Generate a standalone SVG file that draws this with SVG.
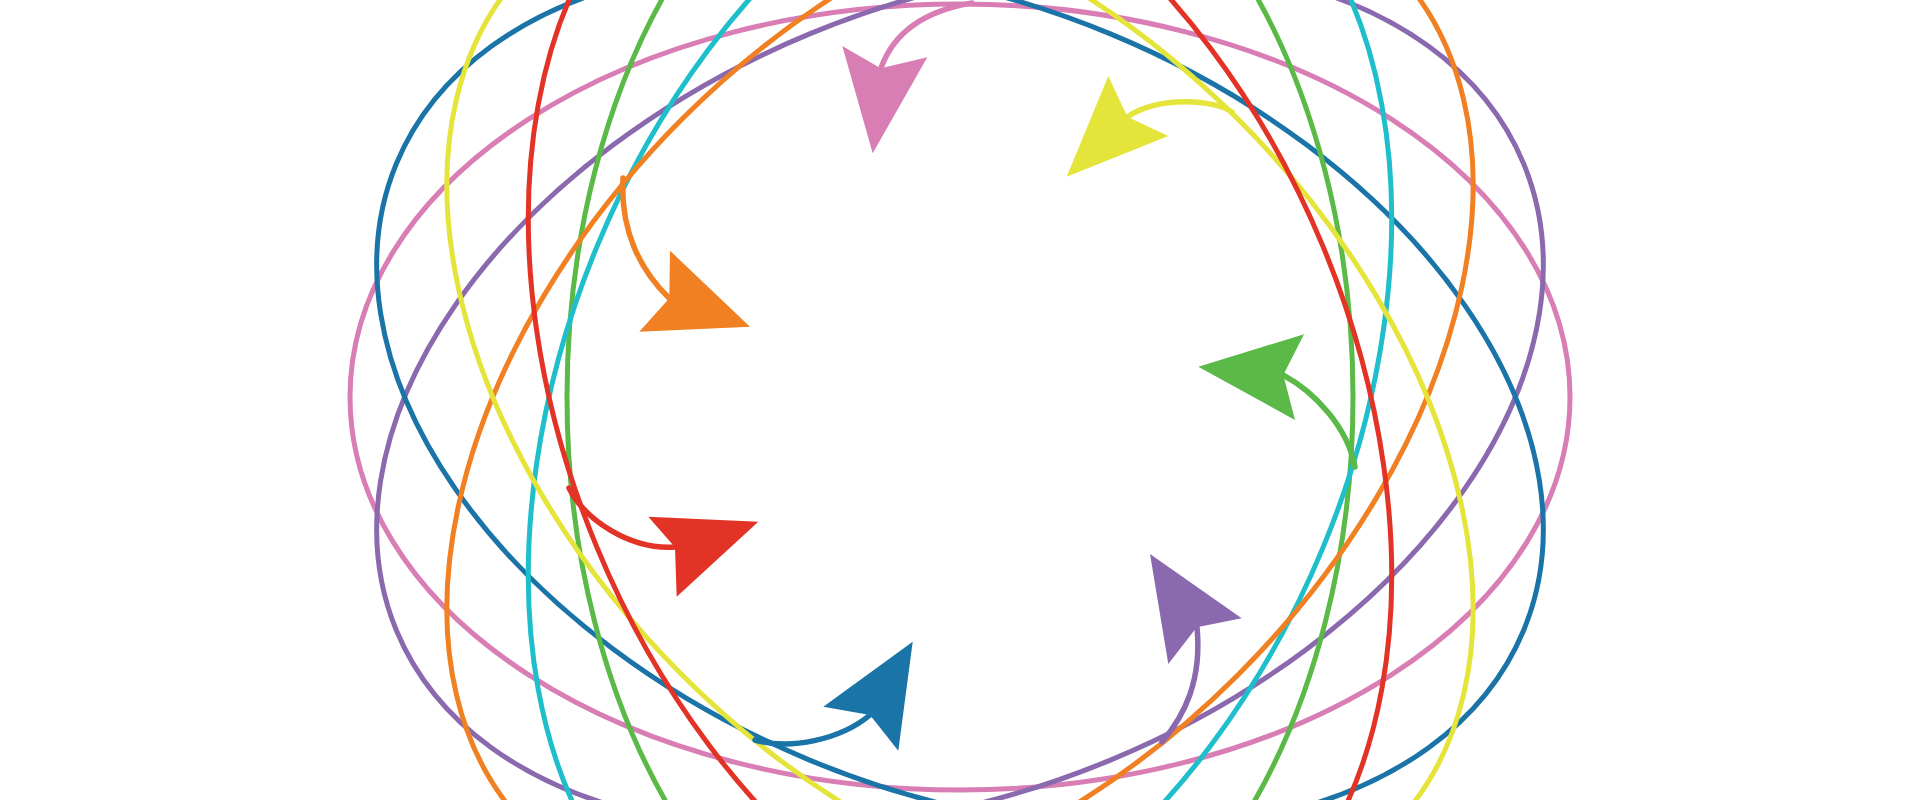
<svg xmlns="http://www.w3.org/2000/svg" width="1920" height="800" viewBox="0 0 1920 800">
<style>
.orb{fill:none;stroke-width:5}
.arc{fill:none;stroke-width:5.5;stroke-linecap:round}
</style>
<rect width="1920" height="800" fill="#ffffff"/>
<g id="orbits">
<ellipse id="orbit-pink" class="orb" cx="960" cy="397" rx="610" ry="393" stroke="#d97db5" stroke-width="5.5"/>
<ellipse id="orbit-purple" class="orb" cx="960" cy="397" rx="610" ry="393" stroke="#8a69ae" transform="rotate(157.5 960 397)"/>
<ellipse id="orbit-blue" class="orb" cx="960" cy="397" rx="610" ry="393" stroke="#1a74a8" transform="rotate(22.5 960 397)"/>
<ellipse id="orbit-green" class="orb" cx="960" cy="397" rx="610" ry="393" stroke="#5bb947" transform="rotate(90 960 397)"/>
<ellipse id="orbit-cyan" class="orb" cx="960" cy="397" rx="610" ry="393" stroke="#1ebfcb" transform="rotate(112.5 960 397)"/>
<ellipse id="orbit-orange" class="orb" cx="960" cy="397" rx="610" ry="393" stroke="#f08022" transform="rotate(135 960 397)"/>
<ellipse id="orbit-yellow" class="orb" cx="960" cy="397" rx="610" ry="393" stroke="#e4e43a" transform="rotate(45 960 397)"/>
<ellipse id="orbit-red" class="orb" cx="960" cy="397" rx="610" ry="393" stroke="#e33226" transform="rotate(67.5 960 397)"/>
</g>
<g id="connectors">
<g id="arrow-pink">
<path class="arc" stroke="#d97db5" d="M 972 3 Q 900 15 881 68"/>
<polygon fill="#d97db5" points="872.7,153.3 842.3,46 880.7,68.3 927.3,57.3"/>
</g>
<g id="arrow-yellow">
<path class="arc" stroke="#e4e43a" d="M 1232 112 C 1215 100 1160 95 1127 117"/>
<polygon fill="#e4e43a" points="1066.7,176.7 1108.3,76 1127.3,116.7 1168.3,136"/>
</g>
<g id="arrow-orange">
<path class="arc" stroke="#f08022" d="M 623 178 C 620 230 640 270 669 298"/>
<polygon fill="#f08022" points="750,326.7 670,250.7 669.3,298.3 639.3,331.7"/>
</g>
<g id="arrow-green">
<path class="arc" stroke="#5bb947" d="M 1355 467 C 1348 428 1315 392 1283 375"/>
<polygon fill="#5bb947" points="1198.3,366.7 1304,334.3 1283.3,375 1295,420"/>
</g>
<g id="arrow-red">
<path class="arc" stroke="#e33226" d="M 569 488 C 585 520 630 550 675 547"/>
<polygon fill="#e33226" points="758.3,521.7 648.3,516.7 675,547.3 676.7,596.7"/>
</g>
<g id="arrow-purple">
<path class="arc" stroke="#8a69ae" d="M 1162 742 C 1185 715 1202 680 1197 627"/>
<polygon fill="#8a69ae" points="1150,554 1241.7,618.3 1196.7,627.3 1168.3,664"/>
</g>
<g id="arrow-blue">
<path class="arc" stroke="#1a74a8" stroke-width="6" d="M 755 740 C 790 750 840 740 870 715"/>
<polygon fill="#1a74a8" points="912.7,641.7 823.3,706.7 870,715 898.3,750.7"/>
</g>
</g>
</svg>
